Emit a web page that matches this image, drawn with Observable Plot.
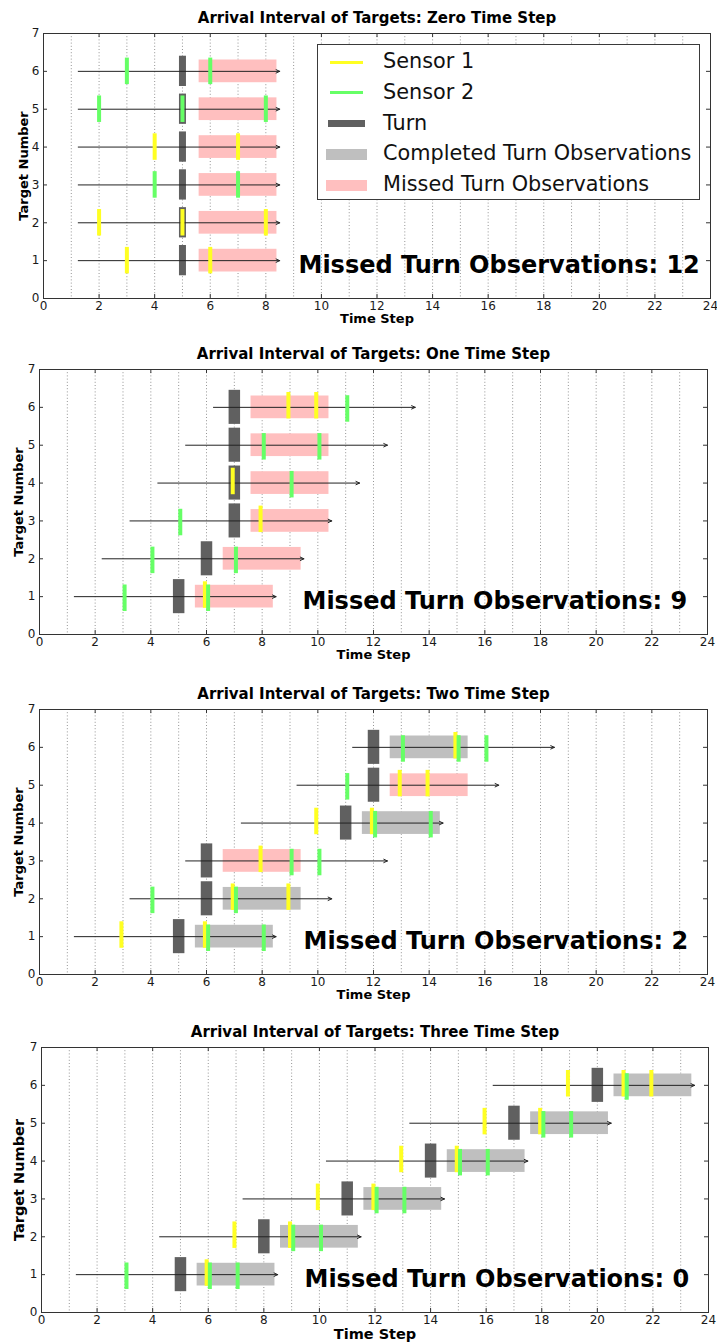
<!DOCTYPE html>
<html>
<head>
<meta charset="utf-8">
<script src="https://cdn.jsdelivr.net/npm/d3@7"></script>
<script src="https://cdn.jsdelivr.net/npm/@observablehq/plot@0.6"></script>
<style>
  html, body { margin: 0; padding: 0; background: #fff; }
  body { width: 717px; height: 1343px; position: relative; overflow: hidden; font-family: "DejaVu Sans", sans-serif; }
  .panel { position: absolute; left: 0; }
  .legend { position: absolute; left: 317px; top: 44px; width: 383px; height: 156px; background: #fff; border: 1px solid #3a3a3a; box-sizing: border-box; }
  .legend .row { position: absolute; left: 0; height: 0; }
  .legend .sw { position: absolute; }
  .legend .lab { position: absolute; left: 65px; top: -13px; font-size: 20.8px; line-height: 25px; color: #111; white-space: nowrap; }
</style>
</head>
<body>
<script>
// ---------------- data ----------------
const panelTitles = [
  "Arrival Interval of Targets: Zero Time Step",
  "Arrival Interval of Targets: One Time Step",
  "Arrival Interval of Targets: Two Time Step",
  "Arrival Interval of Targets: Three Time Step"
];
const missedLabels = [
  "Missed Turn Observations: 12",
  "Missed Turn Observations: 9",
  "Missed Turn Observations: 2",
  "Missed Turn Observations: 0"
];
const targetNumbers = [1, 2, 3, 4, 5, 6];
// arrival time of each target (targets 1..6), per panel
const arrivalTimes = [
  [1, 1, 1, 1, 1, 1],
  [1, 2, 3, 4, 5, 6],
  [1, 3, 5, 7, 9, 11],
  [1, 4, 7, 10, 13, 16]
];
// turn time of each target, per panel
const turnTimes = [
  [5, 5, 5, 5, 5, 5],
  [5, 6, 7, 7, 7, 7],
  [5, 6, 6, 11, 12, 12],
  [5, 8, 11, 14, 17, 20]
];
// outcome of the turn observation window
const observationOutcome = [
  ["missed", "missed", "missed", "missed", "missed", "missed"],
  ["missed", "missed", "missed", "missed", "missed", "missed"],
  ["completed", "completed", "missed", "completed", "missed", "completed"],
  ["completed", "completed", "completed", "completed", "completed", "completed"]
];
// Sensor 1 observation times per target
const sensor1Times = [
  [[3, 6], [2, 5, 8], [], [4, 7], [], []],
  [[6], [], [8], [7], [], [9, 10]],
  [[3, 6], [7, 9], [8], [10, 12], [13, 14], [15]],
  [[6], [7, 9], [10, 12], [13, 15], [16, 18], [19, 21, 22]]
];
// Sensor 2 observation times per target
const sensor2Times = [
  [[], [], [4, 7], [], [2, 5, 8], [3, 6]],
  [[3, 6], [4, 7], [5], [9], [8, 10], [11]],
  [[6, 8], [4, 7], [9, 10], [12, 14], [11], [13, 15, 16]],
  [[3, 6, 7], [9, 10], [12, 13], [15, 16], [18, 19], [21]]
];
const xTickValues = [0, 2, 4, 6, 8, 10, 12, 14, 16, 18, 20, 22, 24];
const yTickValues = [0, 1, 2, 3, 4, 5, 6, 7];
const legendLabels = ["Sensor 1", "Sensor 2", "Turn", "Completed Turn Observations", "Missed Turn Observations"];

// ---------------- styles / layout ----------------
const colors = {s1: "#ffff22", s2: "#66ff66", turn: "#606060", completed: "#bfbfbf", missed: "#ffbfbf"};
const panelTop = [0, 336, 676, 1014];
const marginLeft = [43, 39, 39, 41];
const marginRight = [7, 10, 10, 9];
const turnWidthPx = [7, 11.5, 11.5, 11.5];
const turnHalf = [0.4, 0.45, 0.45, 0.45];
const sensorShift = [0, 1.6, 1.6, 1.6];
const annotDx = [255, 263, 264, 263];
const yLabelDx = [-20, -20.5, -20.5, -22];
const axisLabelSize = [13, 13, 13, 14.5];
const xLabelDy = [24, 24, 24, 26];
const W = 717, H = 336, MT = 33, MB = 38;

for (let p = 0; p < 4; p++) {
  const rows = targetNumbers.map((t, i) => ({
    target: t,
    arrival: arrivalTimes[p][i],
    turn: turnTimes[p][i],
    outcome: observationOutcome[p][i]
  }));
  const s1 = [], s2 = [];
  targetNumbers.forEach((t, i) => {
    sensor1Times[p][i].forEach(v => s1.push({target: t, time: v}));
    sensor2Times[p][i].forEach(v => s2.push({target: t, time: v}));
  });
  const innerW = W - marginLeft[p] - marginRight[p];
  const innerH = H - MT - MB;
  const sh = sensorShift[p];

  const chart = Plot.plot({
    width: W, height: H,
    marginLeft: marginLeft[p], marginRight: marginRight[p], marginTop: MT, marginBottom: MB,
    x: {domain: [0, 24]},
    y: {domain: [0, 7]},
    style: {fontFamily: "DejaVu Sans", fontSize: "12px", color: "#1a1a1a", background: "#fff", overflow: "visible"},
    marks: [
      Plot.gridX({ticks: 24, stroke: "#8a8a8a", strokeOpacity: 0.9, strokeDasharray: "1,2.2"}),
      Plot.rect(rows, {
        x1: d => d.turn + 0.6, x2: d => d.turn + 3.4,
        y1: d => d.target - 0.3, y2: d => d.target + 0.3,
        fill: d => d.outcome === "missed" ? colors.missed : colors.completed
      }),
      Plot.ruleX(rows, {
        x: "turn", y1: d => d.target - turnHalf[p], y2: d => d.target + turnHalf[p],
        stroke: colors.turn, strokeWidth: turnWidthPx[p]
      }),
      Plot.arrow(rows, {
        x1: d => d.arrival + 0.25, x2: d => d.arrival + 7.5,
        y1: "target", y2: "target",
        stroke: "#222", strokeWidth: 1, headLength: 6, headAngle: 50
      }),
      Plot.ruleX(s1, {
        x: "time", y1: d => d.target - 0.35, y2: d => d.target + 0.35,
        stroke: colors.s1, strokeWidth: 4, dx: -sh, dy: -sh
      }),
      Plot.ruleX(s2, {
        x: "time", y1: d => d.target - 0.35, y2: d => d.target + 0.35,
        stroke: colors.s2, strokeWidth: 4, dx: sh, dy: sh
      }),
      Plot.frame({stroke: "#333", strokeWidth: 1}),
      Plot.tickX(xTickValues, {x: d => d, insetTop: innerH - 4, stroke: "#333"}),
      Plot.tickX(xTickValues, {x: d => d, insetBottom: innerH - 4, stroke: "#333"}),
      Plot.tickY(yTickValues, {y: d => d, insetRight: innerW - 4, stroke: "#333"}),
      Plot.tickY(yTickValues, {y: d => d, insetLeft: innerW - 4, stroke: "#333"}),
      Plot.axisX(xTickValues, {anchor: "bottom", tickSize: 0, tickPadding: 3, label: null}),
      Plot.axisY(yTickValues, {anchor: "left", tickSize: 0, tickPadding: 4, label: null}),
      Plot.text([panelTitles[p]], {
        text: d => d, frameAnchor: "top", dy: -11, lineAnchor: "bottom",
        fontSize: 15, fontWeight: "bold", fill: "#000"
      }),
      Plot.text(["Time Step"], {
        text: d => d, frameAnchor: "bottom", dy: xLabelDy[p], lineAnchor: "bottom",
        fontSize: axisLabelSize[p], fontWeight: "bold", fill: "#000"
      }),
      Plot.text(["Target Number"], {
        text: d => d, frameAnchor: "left", dx: yLabelDx[p], rotate: -90,
        textAnchor: "middle", lineAnchor: "middle",
        fontSize: axisLabelSize[p], fontWeight: "bold", fill: "#000"
      }),
      Plot.text([missedLabels[p]], {
        text: d => d, frameAnchor: "bottom-left", dx: annotDx[p], dy: -26,
        textAnchor: "start", lineAnchor: "bottom",
        fontSize: 24, fontWeight: "bold", fill: "#000"
      })
    ]
  });
  const div = document.createElement("div");
  div.className = "panel";
  div.style.top = panelTop[p] + "px";
  div.appendChild(chart);
  document.body.appendChild(div);
}

// ---------------- legend (panel 1) ----------------
const legendSwatch = [
  {color: colors.s1, w: 33, h: 3},
  {color: colors.s2, w: 33, h: 3},
  {color: colors.turn, w: 37, h: 7},
  {color: colors.completed, w: 41, h: 11},
  {color: colors.missed, w: 41, h: 11}
];
const legend = document.createElement("div");
legend.className = "legend";
legendLabels.forEach((lab, i) => {
  const row = document.createElement("div");
  row.className = "row";
  row.style.top = (17 + 30.8 * i) + "px";
  const sw = document.createElement("div");
  sw.className = "sw";
  const s = legendSwatch[i];
  sw.style.background = s.color;
  sw.style.width = s.w + "px";
  sw.style.height = s.h + "px";
  sw.style.left = (28 - s.w / 2) + "px";
  sw.style.top = (-s.h / 2) + "px";
  const tx = document.createElement("div");
  tx.className = "lab";
  tx.textContent = lab;
  row.appendChild(sw);
  row.appendChild(tx);
  legend.appendChild(row);
});
document.body.appendChild(legend);
</script>
</body>
</html>
